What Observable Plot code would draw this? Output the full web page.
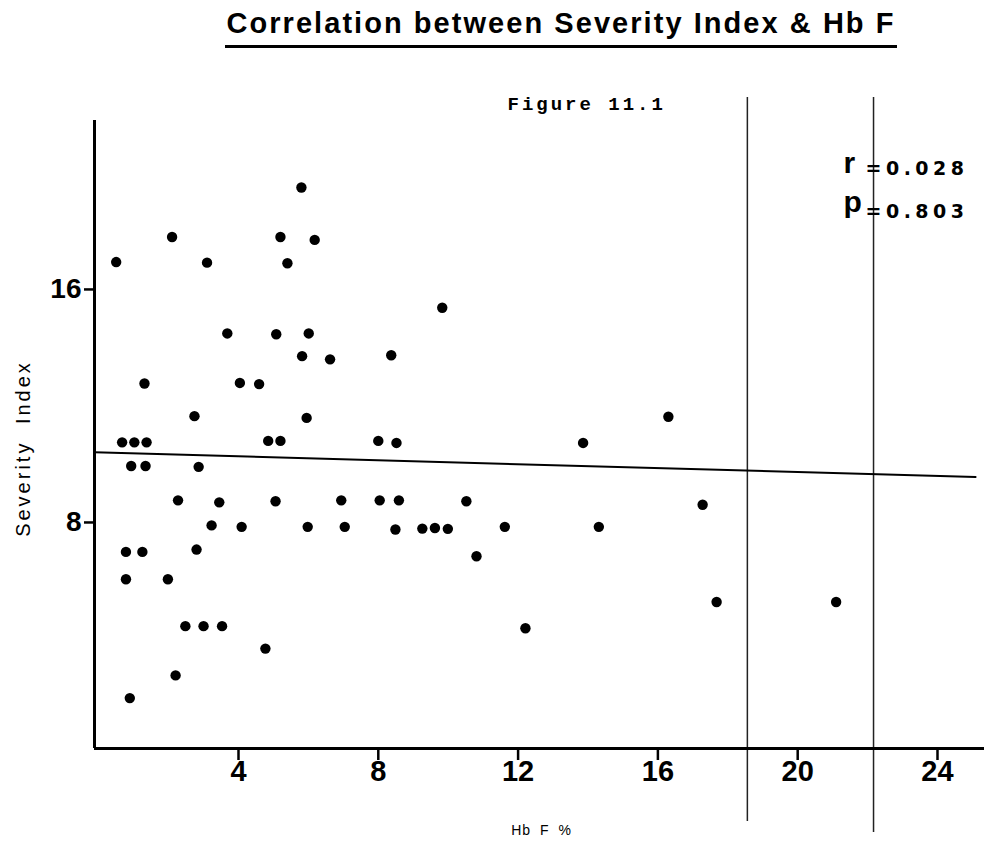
<!DOCTYPE html>
<html>
<head>
<meta charset="utf-8">
<script src="https://cdn.jsdelivr.net/npm/d3@7"></script>
<script src="https://cdn.jsdelivr.net/npm/@observablehq/plot@0.6"></script>
<style>
  body { margin: 0; background: #fff; }
  #wrap { width: 984px; }
  #title { position: relative; height: 50px; }
  #title span {
    position: absolute; left: 225px; width: 672px; top: 6px;
    text-align: center; white-space: nowrap; color: #000;
    font: bold 29px "Liberation Sans", Arial, sans-serif;
    letter-spacing: 2.05px; line-height: 34px;
  }
  #title i { position: absolute; left: 225px; width: 672px; top: 45px; height: 3px; background: #000; }
</style>
</head>
<body>
<div id="wrap">
  <div id="title"><span></span><i></i></div>
  <div id="chart"></div>
</div>
<script>
// Hb F (%) and severity index for each patient
const hbF = [5.8, 2.10, 5.2, 6.18, 0.5, 3.10, 5.40, 3.68, 5.08, 6.01, 5.82, 6.62, 1.31, 4.04, 4.59,
  2.74, 5.95, 0.67, 1.02, 1.37, 4.85, 5.2, 8.0, 8.52, 13.86, 16.3, 9.83, 8.37, 0.93, 1.34, 2.86,
  2.27, 3.45, 5.06, 6.94, 8.04, 8.59, 10.52, 17.28, 3.23, 4.09, 5.98, 7.04, 8.49, 9.26, 9.62, 9.99,
  11.62, 14.31, 0.78, 1.25, 2.80, 0.78, 1.98, 2.48, 3.0, 3.53, 4.77, 2.20, 0.89, 10.81, 12.21,
  17.68, 21.1];
const severity = [19.5, 17.8, 17.8, 17.7, 16.94, 16.92, 16.9, 14.49, 14.46, 14.49, 13.71, 13.6,
  12.77, 12.79, 12.75, 11.65, 11.59, 10.75, 10.75, 10.75, 10.8, 10.8, 10.8, 10.73, 10.73, 11.63,
  15.37, 13.74, 9.94, 9.94, 9.91, 8.76, 8.69, 8.73, 8.76, 8.76, 8.76, 8.73, 8.61, 7.90, 7.85, 7.85,
  7.85, 7.76, 7.79, 7.81, 7.78, 7.85, 7.85, 6.99, 6.99, 7.07, 6.05, 6.05, 4.44, 4.44, 4.44, 3.67,
  2.75, 1.97, 6.84, 4.37, 5.27, 5.27];

// Fitted regression line (end points)
const regX = [-0.12, 25.09];
const regY = [10.41, 9.56];

// Vertical rules across the sheet
const ruleX = [18.56, 22.17];
const ruleTop = [22.59, 22.59];
const ruleBottom = [-2.27, -2.64];

const xTicks = [4, 8, 12, 16, 20, 24];
const yTicks = [8, 16];
const xDomain = [-0.12, 25.345];
const yDomain = [0.24, 21.8];

const titleText = "Correlation between Severity Index & Hb F";
const figureLabel = "Figure 11.1";
const statNames = ["r", "p"];
const statValues = ["=0.028", "=0.803"];
const xLabel = "Hb F %";
const yLabel = "Severity Index";

document.querySelector("#title span").textContent = titleText;

const points = hbF.map((x, i) => ({x, y: severity[i]}));
const regression = regX.map((x, i) => ({x, y: regY[i]}));
const rules = ruleX.map((x, i) => ({x, y1: ruleTop[i], y2: ruleBottom[i]}));

const sans = "'Liberation Sans', Arial, sans-serif";
const note = {frameAnchor: "top-left", textAnchor: "start", lineAnchor: "middle"};

const chart = Plot.plot({
  width: 984,
  height: 795,
  marginLeft: 94,
  marginRight: 0,
  marginTop: 70,
  marginBottom: 97,
  style: {fontFamily: sans, color: "#000", background: "#fff", overflow: "visible"},
  x: {domain: xDomain},
  y: {domain: yDomain},
  marks: [
    Plot.ruleX(rules, {x: "x", y1: "y1", y2: "y2", stroke: "#222", strokeWidth: 1.5}),
    Plot.ruleX([xDomain[0]], {stroke: "#000", strokeWidth: 3}),
    Plot.ruleY([yDomain[0]], {stroke: "#000", strokeWidth: 3}),
    Plot.line(regression, {x: "x", y: "y", stroke: "#000", strokeWidth: 2}),
    Plot.dot(points, {x: "x", y: "y", r: 5.2, fill: "#000", stroke: "none"}),
    Plot.axisX({ticks: xTicks, tickSize: 12, tickPadding: 0, strokeWidth: 2.5,
      fontSize: 29, fontWeight: "bold", label: null}),
    Plot.axisY({ticks: yTicks, tickSize: 10, tickPadding: 3, strokeWidth: 2.5,
      fontSize: 28, fontWeight: "bold", label: null}),
    Plot.text([xLabel], {frameAnchor: "bottom", textAnchor: "middle", lineAnchor: "middle",
      dx: 2, dy: 82, fontSize: 14}),
    Plot.text([yLabel], {frameAnchor: "left", textAnchor: "middle", lineAnchor: "middle",
      dx: -71, dy: 14, rotate: -90, fontSize: 20}),
    Plot.text([figureLabel], {...note, dx: 413, dy: -17,
      fontFamily: "'Liberation Mono', 'Courier New', monospace", fontWeight: "bold", fontSize: 19}),
    Plot.text([statNames[0]], {...note, dx: 749, dy: 43, fontWeight: "bold", fontSize: 30}),
    Plot.text([statNames[1]], {...note, dx: 749, dy: 82, fontWeight: "bold", fontSize: 30}),
    Plot.text([statValues[0]], {...note, dx: 771, dy: 48,
      fontFamily: "'DejaVu Sans', sans-serif", fontWeight: "bold", fontSize: 19}),
    Plot.text([statValues[1]], {...note, dx: 771, dy: 91,
      fontFamily: "'DejaVu Sans', sans-serif", fontWeight: "bold", fontSize: 19})
  ]
});

// Letter spacing for the typewritten-style labels
const spacing = new Map([
  [figureLabel, "3px"],
  [statValues[0], "4.5px"],
  [statValues[1], "4.5px"],
  [xLabel, "1px"],
  [yLabel, "3px"]
]);
d3.select(chart).selectAll("text").each(function () {
  const s = spacing.get(this.textContent);
  if (s) d3.select(this).style("letter-spacing", s).style("word-spacing", this.textContent === yLabel ? "8px" : this.textContent === xLabel ? "4px" : null);
});

document.getElementById("chart").appendChild(chart);
</script>
</body>
</html>
